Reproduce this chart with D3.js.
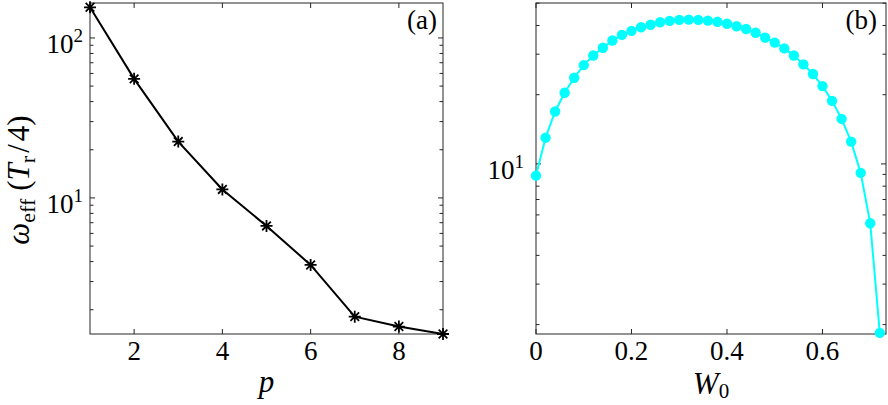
<!DOCTYPE html>
<html><head><meta charset="utf-8">
<script src="https://cdn.jsdelivr.net/npm/d3@7"></script>
<style>body{margin:0;background:#fff} svg{display:block}</style>
</head><body><svg id="c" width="888" height="405"></svg>
<script>
// ---- data ----
const pValues = [1, 2, 3, 4, 5, 6, 7, 8, 9];
const omegaEffP = [155.5, 55.5, 22.5, 11.3, 6.68, 3.81, 1.81, 1.57, 1.41];
const w0Values = [0, 0.02, 0.04, 0.06, 0.08, 0.10, 0.12, 0.14, 0.16, 0.18, 0.20, 0.22, 0.24,
  0.26, 0.28, 0.30, 0.32, 0.34, 0.36, 0.38, 0.40, 0.42, 0.44, 0.46, 0.48, 0.50, 0.52,
  0.54, 0.56, 0.58, 0.60, 0.62, 0.64, 0.66, 0.68, 0.70, 0.72];
const omegaEffW0 = [8.89, 13.0, 16.9, 20.4, 23.7, 26.9, 29.6, 32.0, 34.4, 36.4, 37.9, 39.3, 40.3,
  41.3, 41.9, 42.3, 42.4, 42.3, 42.0, 41.5, 40.7, 39.7, 38.6, 37.2, 35.4, 33.7, 31.8,
  29.6, 27.1, 24.6, 21.8, 18.8, 15.7, 12.5, 9.14, 5.52, 1.84];
const xTicksA = [2, 4, 6, 8];
const xTickLabelsA = ["2", "4", "6", "8"];
const xTicksB = [0, 0.2, 0.4, 0.6];
const xTickLabelsB = ["0", "0.2", "0.4", "0.6"];
const yMajorA = [10, 100];
const yMajorB = [10];
const yExponentsA = ["1", "2"];
const yExponentsB = ["1"];
const minorMultiples = [2, 3, 4, 5, 6, 7, 8, 9];

// ---- layout ----
const svg = d3.select("#c");
const AX = "#262626";
const FONT = '"Liberation Serif"';
const TICKFS = "27px";

// text helper: parts = [{t, size, dy, dx, italic}]
function rich(parent, x, y, size, parts, anchor) {
  const el = parent.append("text").attr("x", x).attr("y", y)
    .style("font-family", FONT).style("font-size", size);
  parts.forEach(p => {
    const s = el.append("tspan").style("font-family", FONT).style("font-size", p.size || size);
    if (p.italic) s.style("font-style", "italic");
    if (p.dy) s.attr("dy", p.dy);
    if (p.dx) s.attr("dx", p.dx);
    s.text(p.t);
  });
  const w = el.node().getComputedTextLength();
  if (anchor === "middle") el.attr("x", x - w / 2);
  else if (anchor === "end") el.attr("x", x - w);
  return el;
}

function drawPanel(cfg) {
  const {x, y, xt, xtl, ymaj, yexp, label, labelEnd, ylabGap} = cfg;
  const [x0, x1] = x.range();
  const [y0, y1] = y.range();
  const g = svg.append("g");
  g.append("rect").attr("x", x0).attr("y", y1).attr("width", x1 - x0).attr("height", y0 - y1)
    .attr("fill", "none").attr("stroke", AX).attr("stroke-width", 1);
  xt.forEach((t, i) => {
    const px = x(t);
    g.append("line").attr("x1", px).attr("x2", px).attr("y1", y0).attr("y2", y0 - 5).attr("stroke", AX);
    g.append("line").attr("x1", px).attr("x2", px).attr("y1", y1).attr("y2", y1 + 5).attr("stroke", AX);
    rich(g, px, 360, TICKFS, [{t: xtl[i]}], "middle");
  });
  const [dlo, dhi] = y.domain();
  const minors = [];
  ymaj.forEach(m => minorMultiples.forEach(k => minors.push(m / 10 * k)));
  minorMultiples.forEach(k => minors.push(ymaj[ymaj.length - 1] * k));
  minors.filter(v => v >= dlo && v <= dhi).forEach(v => {
    const py = y(v);
    g.append("line").attr("x1", x0).attr("x2", x0 + 3.5).attr("y1", py).attr("y2", py).attr("stroke", AX);
    g.append("line").attr("x1", x1).attr("x2", x1 - 3.5).attr("y1", py).attr("y2", py).attr("stroke", AX);
  });
  ymaj.forEach((v, i) => {
    const py = y(v);
    g.append("line").attr("x1", x0).attr("x2", x0 + 5).attr("y1", py).attr("y2", py).attr("stroke", AX);
    g.append("line").attr("x1", x1).attr("x2", x1 - 5).attr("y1", py).attr("y2", py).attr("stroke", AX);
    rich(g, x0 - ylabGap, py + 15, TICKFS, [{t: "10"}, {t: yexp[i], size: "19px", dy: -11}], "end");
  });
  rich(g, labelEnd, 29, TICKFS, [{t: label}], "end");
  return g;
}

// Panel (a)
const xA = d3.scaleLinear().domain([1, 9]).range([90, 443]);
const yA = d3.scaleLog().domain([1.41, 165.4]).range([334, 3]);
const gA = drawPanel({x: xA, y: yA, xt: xTicksA, xtl: xTickLabelsA, ymaj: yMajorA, yexp: yExponentsA,
  label: "(a)", labelEnd: 437, ylabGap: 7});
const dataA = pValues.map((p, i) => ({x: p, y: omegaEffP[i]}));
gA.append("path").datum(dataA)
  .attr("d", d3.line().x(d => xA(d.x)).y(d => yA(d.y)))
  .attr("fill", "none").attr("stroke", "#000").attr("stroke-width", 2);
function asterisk(s) {
  const p = d3.path(); const d = s * 0.72;
  p.moveTo(-s, 0); p.lineTo(s, 0); p.moveTo(0, -s); p.lineTo(0, s);
  p.moveTo(-d, -d); p.lineTo(d, d); p.moveTo(-d, d); p.lineTo(d, -d);
  return p.toString();
}
gA.selectAll("path.m").data(dataA).enter().append("path").attr("class", "m")
  .attr("transform", d => `translate(${xA(d.x)},${yA(d.y)})`)
  .attr("d", asterisk(6)).attr("stroke", "#000").attr("stroke-width", 1.8).attr("fill", "none");

// Panel (b)
const xB = d3.scaleLinear().domain([0, 0.733]).range([536, 886]);
const yB = d3.scaleLog().domain([1.82, 50.1]).range([334, 3]);
const gB = drawPanel({x: xB, y: yB, xt: xTicksB, xtl: xTickLabelsB, ymaj: yMajorB, yexp: yExponentsB,
  label: "(b)", labelEnd: 877, ylabGap: 12});
const dataB = w0Values.map((w, i) => ({x: w, y: omegaEffW0[i]}));
gB.append("path").datum(dataB)
  .attr("d", d3.line().x(d => xB(d.x)).y(d => yB(d.y)))
  .attr("fill", "none").attr("stroke", "#00FFFF").attr("stroke-width", 2);
gB.selectAll("circle").data(dataB).enter().append("circle")
  .attr("cx", d => xB(d.x)).attr("cy", d => yB(d.y)).attr("r", 5.2).attr("fill", "#00FFFF");

// axis labels
const LBLFS = "31px";
rich(svg, 266.5, 392, LBLFS, [{t: "p", italic: true}], "middle");
rich(svg, 711, 394, LBLFS, [{t: "W", italic: true}, {t: "0", size: "21px", dy: 4}], "middle");
const ylg = svg.append("g").attr("transform", "translate(29,187) rotate(-90)");
rich(ylg, 0, 0, LBLFS, [
  {t: "ω", italic: true},
  {t: "eff", size: "22px", dy: 6},
  {t: "(", dy: -6, dx: 8},
  {t: "T", italic: true},
  {t: "r", size: "22px", dy: 6},
  {t: "/", dy: -6, dx: 3},
  {t: "4)", dx: 3}
], "middle");
</script></body></html>
